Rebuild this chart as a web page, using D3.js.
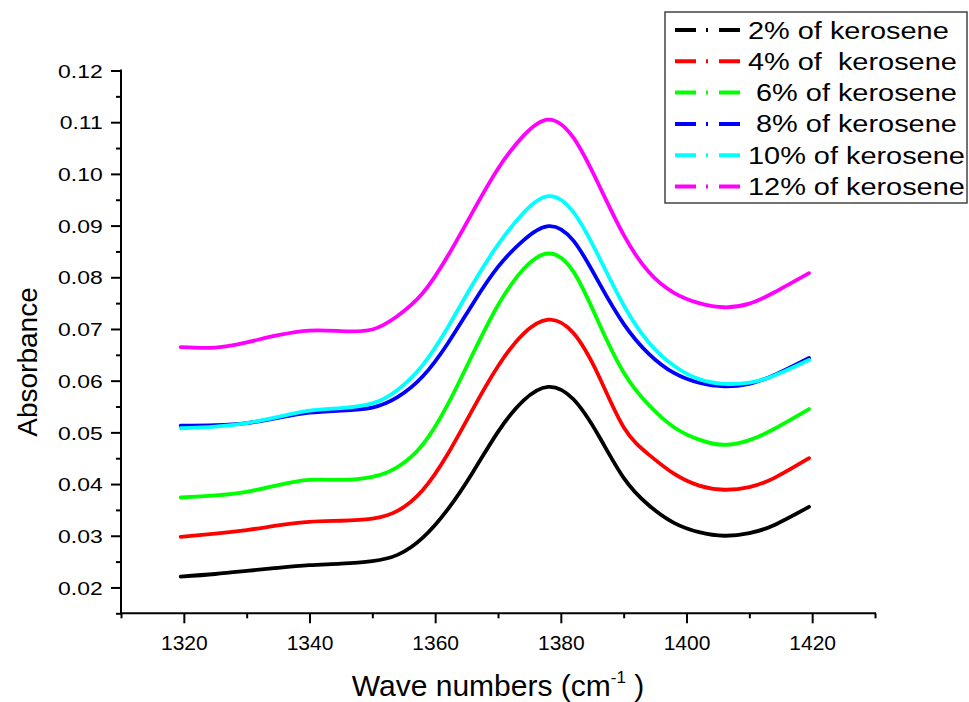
<!DOCTYPE html>
<html>
<head>
<meta charset="utf-8">
<script src="https://cdn.jsdelivr.net/npm/d3@7"></script>
<style>
  html, body { margin: 0; padding: 0; background: #fff; }
  svg { display: block; }
  text { font-family: "Liberation Sans", Arial, sans-serif; fill: #000; }
</style>
</head>
<body>
<svg id="chart" width="969" height="702"></svg>
<script>
// ---- data ----
const wavenumbers = [1319.5, 1325, 1330, 1335, 1340, 1345, 1350, 1354, 1358, 1362, 1366, 1370, 1374, 1378, 1382, 1386, 1390, 1394, 1398, 1402, 1406, 1410, 1414, 1419.5];
const seriesNames = ["2% of kerosene", "4% of  kerosene", " 6% of kerosene", " 8% of kerosene", "10% of kerosene", "12% of kerosene"];
const seriesColors = ["#000000", "#ff0000", "#00ff00", "#0000ff", "#00ffff", "#ff00ff"];
const kero2  = [0.0221, 0.0226, 0.0232, 0.0238, 0.0243, 0.0246, 0.0251, 0.0263, 0.0296, 0.0351, 0.0423, 0.0501, 0.0561, 0.0588, 0.0564, 0.0494, 0.0412, 0.0359, 0.0325, 0.0307, 0.0300, 0.0305, 0.0321, 0.0356];
const kero4  = [0.0298, 0.0304, 0.0311, 0.0320, 0.0327, 0.0329, 0.0333, 0.0348, 0.0388, 0.0458, 0.0545, 0.0628, 0.0690, 0.0718, 0.0692, 0.0610, 0.0510, 0.0457, 0.0420, 0.0397, 0.0389, 0.0394, 0.0412, 0.0450];
const kero6  = [0.0374, 0.0378, 0.0385, 0.0398, 0.0408, 0.0408, 0.0414, 0.0433, 0.0476, 0.0554, 0.0652, 0.0746, 0.0815, 0.0846, 0.0811, 0.0713, 0.0616, 0.0553, 0.0510, 0.0486, 0.0476, 0.0485, 0.0507, 0.0545];
const kero8  = [0.0513, 0.0514, 0.0518, 0.0528, 0.0538, 0.0542, 0.0548, 0.0568, 0.0608, 0.0672, 0.0749, 0.0820, 0.0871, 0.0899, 0.0871, 0.0791, 0.0710, 0.0652, 0.0615, 0.0596, 0.0589, 0.0594, 0.0611, 0.0644];
const kero10 = [0.0508, 0.0511, 0.0518, 0.0530, 0.0542, 0.0547, 0.0556, 0.0582, 0.0630, 0.0703, 0.0787, 0.0863, 0.0924, 0.0957, 0.0926, 0.0841, 0.0746, 0.0674, 0.0629, 0.0603, 0.0594, 0.0596, 0.0610, 0.0640];
const kero12 = [0.0665, 0.0664, 0.0674, 0.0688, 0.0697, 0.0696, 0.0699, 0.0725, 0.0769, 0.0841, 0.0927, 0.1010, 0.1073, 0.1105, 0.1070, 0.0980, 0.0882, 0.0810, 0.0770, 0.0750, 0.0742, 0.0749, 0.0771, 0.0808];
const seriesValues = [kero2, kero4, kero6, kero8, kero10, kero12];
const xMajorTicks = [1320, 1340, 1360, 1380, 1400, 1420];
const xMinorTicks = [1310, 1330, 1350, 1370, 1390, 1410, 1430];
const yMajorTicks = [0.02, 0.03, 0.04, 0.05, 0.06, 0.07, 0.08, 0.09, 0.10, 0.11, 0.12];
const yMinorTicks = [0.015, 0.025, 0.035, 0.045, 0.055, 0.065, 0.075, 0.085, 0.095, 0.105, 0.115];
const xTitle = "Wave numbers (cm";
const yTitle = "Absorbance";

// ---- layout ----
const svg = d3.select("#chart");
const x = d3.scaleLinear().domain([1310, 1430]).range([121, 875]);
const y = d3.scaleLinear().domain([0.015, 0.12]).range([613.3, 70.5]);
const stretch = 1.24;

// axes
const gx = svg.append("g").attr("transform", `translate(0,${y(0.015)})`);
gx.call(d3.axisBottom(x).tickValues(xMajorTicks).tickSize(10).tickSizeOuter(0).tickPadding(11.5).tickFormat(d3.format("d")));
const gxm = svg.append("g").attr("transform", `translate(0,${y(0.015)})`);
gxm.call(d3.axisBottom(x).tickValues(xMinorTicks).tickSize(5).tickSizeOuter(0).tickFormat(""));

const gy = svg.append("g").attr("transform", `translate(${x(1310)},0)`);
gy.call(d3.axisLeft(y).tickValues(yMajorTicks).tickSize(10).tickSizeOuter(0).tickPadding(4.8).tickFormat(d3.format(".2f")));
const gym = svg.append("g").attr("transform", `translate(${x(1310)},0)`);
gym.call(d3.axisLeft(y).tickValues(yMinorTicks).tickSize(5).tickSizeOuter(0).tickFormat(""));

[gx, gxm, gy, gym].forEach(g => {
  g.selectAll(".domain").remove();
  g.selectAll(".tick line").attr("stroke", "#000").attr("stroke-width", 2);
});
gx.selectAll(".tick text").attr("font-size", 21).attr("font-family", "Liberation Sans, Arial, sans-serif");
gy.selectAll(".tick text")
  .attr("font-size", 18.5)
  .attr("font-family", "Liberation Sans, Arial, sans-serif")
  .attr("dy", "0.36em")
  .attr("transform", `scale(${stretch},1)`);

// axis lines
svg.append("line")
  .attr("x1", x(1310) - 1).attr("x2", x(1430) + 1)
  .attr("y1", y(0.015)).attr("y2", y(0.015))
  .attr("stroke", "#000").attr("stroke-width", 2);
svg.append("line")
  .attr("x1", x(1310)).attr("x2", x(1310))
  .attr("y1", y(0.015)).attr("y2", y(0.12) - 1)
  .attr("stroke", "#000").attr("stroke-width", 2);

// curves
const line = d3.line()
  .x((d, i) => x(wavenumbers[i]))
  .y(d => y(d))
  .curve(d3.curveNatural);

seriesValues.forEach((vals, k) => {
  svg.append("path")
    .datum(vals)
    .attr("d", line)
    .attr("fill", "none")
    .attr("stroke", seriesColors[k])
    .attr("stroke-width", 3.8)
    .attr("stroke-linejoin", "round")
    .attr("stroke-linecap", "round");
});

// axis titles
const xt = svg.append("text")
  .attr("x", (x(1310) + x(1430)) / 2)
  .attr("y", 696)
  .attr("text-anchor", "middle")
  .attr("font-size", 30);
xt.append("tspan").text(xTitle);
xt.append("tspan").attr("font-size", 17).attr("dy", -13).text("-1");
xt.append("tspan").attr("dy", 13).text(" )");

svg.append("text")
  .attr("transform", `translate(37,362) rotate(-90)`)
  .attr("text-anchor", "middle")
  .attr("font-size", 28)
  .text(yTitle);

// legend
const lg = svg.append("g");
lg.append("rect")
  .attr("x", 665).attr("y", 12)
  .attr("width", 302).attr("height", 191)
  .attr("fill", "#fff")
  .attr("stroke", "#444").attr("stroke-width", 1.5);

seriesNames.forEach((name, k) => {
  const cy = 30 + k * 31.3;
  lg.append("line")
    .attr("x1", 675).attr("x2", 740)
    .attr("y1", cy).attr("y2", cy)
    .attr("stroke", seriesColors[k])
    .attr("stroke-width", 4)
    .attr("stroke-dasharray", "21 10 2 11 21");
  lg.append("text")
    .attr("transform", `translate(748,${cy + 8.5}) scale(1.23,1)`)
    .attr("font-size", 23.5)
    .attr("xml:space", "preserve")
    .style("white-space", "pre")
    .text(name);
});
</script>
</body>
</html>
